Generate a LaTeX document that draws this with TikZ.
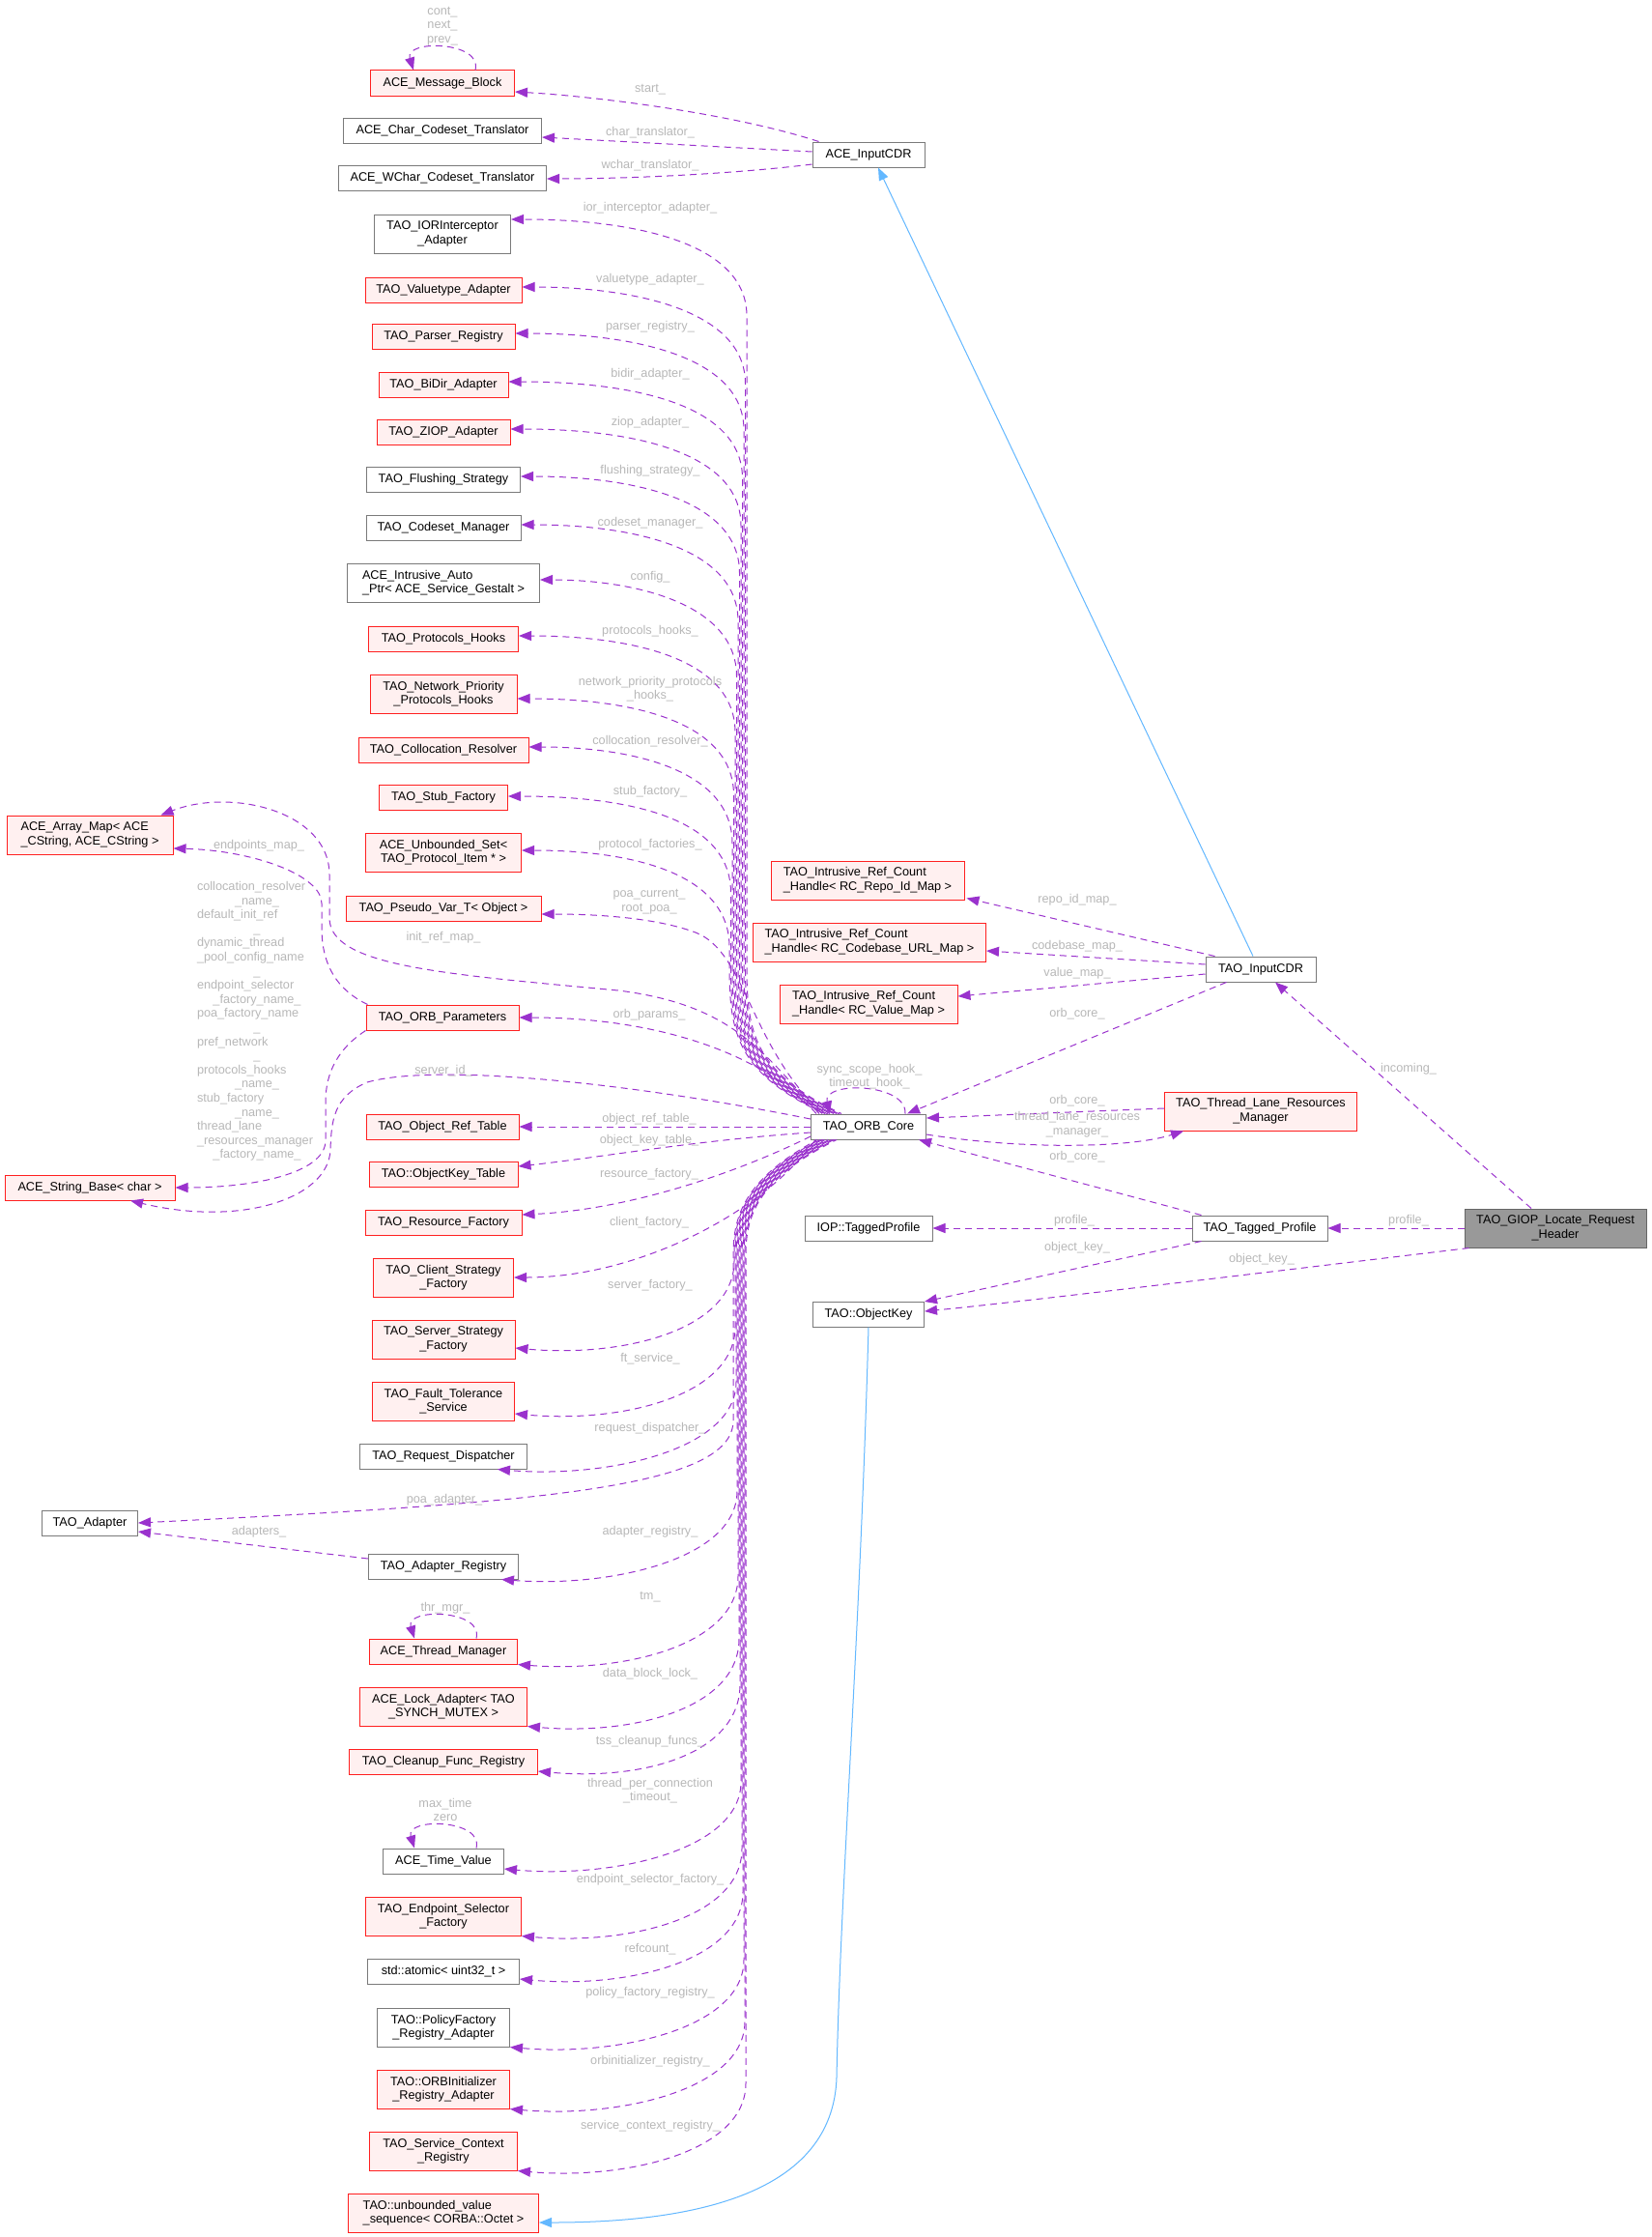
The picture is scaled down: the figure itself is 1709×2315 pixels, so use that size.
\documentclass[tikz,border=0pt]{standalone}
\usepackage{fontspec}
\setmainfont{Liberation Sans}
\usetikzlibrary{arrows.meta,calc}
\definecolor{edgep}{HTML}{9A32CD}
\definecolor{inhb}{HTML}{63B8FF}
\definecolor{lblg}{HTML}{B8B8B8}
\definecolor{bgray}{HTML}{7A7A7A}
\definecolor{redb}{HTML}{FF2020}
\definecolor{redf}{HTML}{FFF0F0}
\definecolor{giopf}{HTML}{999999}
\definecolor{giopb}{HTML}{666666}
\tikzset{
  x=1pt,y=-1pt,
  box/.style={draw=bgray,fill=white,line width=1.0pt,inner xsep=2pt,inner ysep=0pt,minimum height=26pt,font=\fontsize{12.7}{14.6}\selectfont,align=center},
  rbox/.style={box,draw=redb,fill=redf},
  two/.style={minimum height=40pt},
  dep/.style={draw=edgep,line width=1.0pt,dash pattern=on 7pt off 5pt,-{Triangle[length=13pt,width=10pt]}},
  inh/.style={draw=inhb,line width=1.0pt,-{Triangle[length=13pt,width=10pt]}},
  lbl/.style={text=lblg,font=\fontsize{12.7}{14.6}\selectfont,align=center,inner sep=0pt},
}
\newcommand\upE[4]{%
  \pgfmathsetmacro\myya{#3+100}%
  \pgfmathsetmacro\myph{mod(#1*5,12)}%
  \draw[dep,dash phase=\myph pt] ($(oc.north west)+(#1,0)$) .. controls (#2+8,1110) and (#2,1070) .. (#2,1000) -- (#2,\myya) .. controls (#2,#3+22) and (650,#3) .. #4;
}
\newcommand\dnE[5]{%
  \pgfmathsetmacro\myyb{#3-90}%
  \pgfmathsetmacro\myph{mod(#1*5,12)}%
  \draw[dep,dash phase=\myph pt] ($(oc.south west)+(#1,0)$) .. controls (#2+8,1222) and (#2,1262) .. (#2,1300) -- (#2,\myyb) .. controls (#2,#3-18) and (#4+110,#3+10) .. #5;
}
\newcommand\cl[1]{\makebox[124pt][c]{#1}}
\begin{document}
\begin{tikzpicture}
\fill[white] (0,0) rectangle (1709,2315);
\path[use as bounding box] (0,0) rectangle (1709,2315);

% ---------- left column ----------
\node[rbox,minimum width=149pt] (mb) at (458,86) {ACE\_Message\_Block};
\node[box,minimum width=205pt] (cct) at (458,135) {ACE\_Char\_Codeset\_Translator};
\node[box,minimum width=215pt] (wct) at (458,184) {ACE\_WChar\_Codeset\_Translator};
\node[box,two,minimum width=141pt] (ior) at (458,242) {TAO\_IORInterceptor\\\_Adapter};
\node[rbox,minimum width=162pt] (vta) at (459,300) {TAO\_Valuetype\_Adapter};
\node[rbox,minimum width=148pt] (preg) at (459,348) {TAO\_Parser\_Registry};
\node[rbox,minimum width=134pt] (bidir) at (459,398) {TAO\_BiDir\_Adapter};
\node[rbox,minimum width=138pt] (ziop) at (459,447) {TAO\_ZIOP\_Adapter};
\node[box,minimum width=159pt] (flush) at (459,496) {TAO\_Flushing\_Strategy};
\node[box,minimum width=160pt] (csm) at (459,546) {TAO\_Codeset\_Manager};
\node[box,two,align=left,minimum width=199pt] (iap) at (459,603) {ACE\_Intrusive\_Auto\\\_Ptr< ACE\_Service\_Gestalt >};
\node[rbox,minimum width=155pt] (phk) at (459,661) {TAO\_Protocols\_Hooks};
\node[rbox,two,minimum width=152pt] (npph) at (459,718) {TAO\_Network\_Priority\\\_Protocols\_Hooks};
\node[rbox,minimum width=176pt] (colr) at (459,776) {TAO\_Collocation\_Resolver};
\node[rbox,minimum width=133pt] (stub) at (459,825) {TAO\_Stub\_Factory};
\node[rbox,two,minimum width=161pt] (uset) at (459,882) {ACE\_Unbounded\_Set<\\TAO\_Protocol\_Item * >};
\node[rbox,minimum width=202pt] (pvar) at (459,940) {TAO\_Pseudo\_Var\_T< Object >};
\node[rbox,minimum width=158pt] (op) at (458,1053) {TAO\_ORB\_Parameters};
\node[rbox,minimum width=158pt] (ort) at (458,1166) {TAO\_Object\_Ref\_Table};
\node[rbox,minimum width=154pt] (okt) at (459,1215) {TAO::ObjectKey\_Table};
\node[rbox,minimum width=162pt] (rf) at (459,1265) {TAO\_Resource\_Factory};
\node[rbox,two,minimum width=145pt] (csf) at (459,1322) {TAO\_Client\_Strategy\\\_Factory};
\node[rbox,two,minimum width=148pt] (ssf) at (459,1386) {TAO\_Server\_Strategy\\\_Factory};
\node[rbox,two,minimum width=147pt] (fts) at (459,1450) {TAO\_Fault\_Tolerance\\\_Service};
\node[box,minimum width=173pt] (rd) at (459,1507) {TAO\_Request\_Dispatcher};
\node[box,minimum width=155pt] (ar) at (459,1621) {TAO\_Adapter\_Registry};
\node[rbox,minimum width=153pt] (tm) at (459,1709) {ACE\_Thread\_Manager};
\node[rbox,two,minimum width=173pt] (la) at (459,1766) {ACE\_Lock\_Adapter< TAO\\\_SYNCH\_MUTEX >};
\node[rbox,minimum width=195pt] (cfr) at (459,1823) {TAO\_Cleanup\_Func\_Registry};
\node[box,minimum width=125pt] (tv) at (459,1926) {ACE\_Time\_Value};
\node[rbox,two,minimum width=161pt] (esf) at (459,1983) {TAO\_Endpoint\_Selector\\\_Factory};
\node[box,minimum width=157pt] (atom) at (459,2040) {std::atomic< uint32\_t >};
\node[box,two,minimum width=137pt] (pfr) at (459,2098) {TAO::PolicyFactory\\\_Registry\_Adapter};
\node[rbox,two,minimum width=137pt] (oir) at (459,2162) {TAO::ORBInitializer\\\_Registry\_Adapter};
\node[rbox,two,minimum width=153pt] (scr) at (459,2226) {TAO\_Service\_Context\\\_Registry};
\node[rbox,two,align=left,minimum width=197pt] (uvs) at (459,2290) {TAO::unbounded\_value\\\_sequence< CORBA::Octet >};

% ---------- far left ----------
\node[rbox,two,align=left,minimum width=172pt] (am) at (93,864) {ACE\_Array\_Map< ACE\\\_CString, ACE\_CString >};
\node[rbox,minimum width=176pt] (sb) at (93,1229) {ACE\_String\_Base< char >};
\node[box,minimum width=99pt] (ta) at (93,1576) {TAO\_Adapter};

% ---------- right ----------
\node[box,minimum width=116pt] (aic) at (899,160) {ACE\_InputCDR};
\node[rbox,two,align=left,minimum width=200pt] (rid) at (898,911) {TAO\_Intrusive\_Ref\_Count\\\_Handle< RC\_Repo\_Id\_Map >};
\node[rbox,two,align=left,minimum width=241pt] (cbm) at (900,975) {TAO\_Intrusive\_Ref\_Count\\\_Handle< RC\_Codebase\_URL\_Map >};
\node[rbox,two,align=left,minimum width=184pt] (vmap) at (899,1039) {TAO\_Intrusive\_Ref\_Count\\\_Handle< RC\_Value\_Map >};
\node[box,minimum width=114pt] (tic) at (1305,1003) {TAO\_InputCDR};
\node[box,minimum width=119pt] (oc) at (899,1166) {TAO\_ORB\_Core};
\node[rbox,two,minimum width=199pt] (tlr) at (1305,1150) {TAO\_Thread\_Lane\_Resources\\\_Manager};
\node[box,minimum width=132pt] (iop) at (899,1271) {IOP::TaggedProfile};
\node[box,minimum width=115pt] (okey) at (899,1360) {TAO::ObjectKey};
\node[box,minimum width=140pt] (tp) at (1304,1271) {TAO\_Tagged\_Profile};
\node[box,two,fill=giopf,draw=giopb,minimum width=188pt] (giop) at (1610,1271) {TAO\_GIOP\_Locate\_Request\\\_Header};

% ---------- ACE_InputCDR edges ----------
\draw[dep] ($(aic.north west)+(7,0)$) .. controls (760,118) and (620,100) .. ($(mb.east)+(0,9)$);
\draw[dep] ($(aic.west)+(0,-3)$) -- ($(cct.east)+(0,7)$);
\draw[dep] ($(aic.west)+(0,10)$) .. controls (760,180) and (650,185) .. ($(wct.east)+(0,1)$);
\draw[inh] ($(tic.north)+(-8,0)$) -- ($(aic.south)+(10,0)$);

% ---------- self loops ----------
\draw[dep] ($(mb.north)+(34,0)$) .. controls ($(mb.north)+(42,-30)$) and ($(mb.north)+(-40,-32)$) .. ($(mb.north)+(-30,0)$);
\draw[dep] ($(tm.north)+(34,0)$) .. controls ($(tm.north)+(42,-30)$) and ($(tm.north)+(-40,-32)$) .. ($(tm.north)+(-30,0)$);
\draw[dep] ($(tv.north)+(34,0)$) .. controls ($(tv.north)+(42,-30)$) and ($(tv.north)+(-40,-32)$) .. ($(tv.north)+(-30,0)$);
\draw[dep] ($(oc.north)+(38,0)$) .. controls ($(oc.north)+(40,-32)$) and ($(oc.north)+(-48,-34)$) .. ($(oc.north)+(-40,0)$);

% ---------- ORB_Core upper bundle ----------
\upE{32}{773}{227}{($(ior.east)+(0,-15)$)}
\upE{30}{771.5}{297}{($(vta.east)+(0,-3)$)}
\upE{29}{770}{345}{($(preg.east)+(0,-3)$)}
\upE{27}{768.5}{395}{($(bidir.east)+(0,-3)$)}
\upE{26}{767}{444}{($(ziop.east)+(0,-3)$)}
\upE{24}{765.5}{493}{($(flush.east)+(0,-3)$)}
\upE{23}{764}{543}{($(csm.east)+(0,-3)$)}
\upE{21}{762.5}{600}{($(iap.east)+(0,-3)$)}
\upE{20}{761}{658}{($(phk.east)+(0,-3)$)}
\upE{18}{759.5}{723}{($(npph.east)+(0,5)$)}
\upE{17}{758}{773}{($(colr.east)+(0,-3)$)}
\upE{15}{756.5}{824}{($(stub.east)+(0,-1)$)}
\upE{14}{755}{880}{($(uset.east)+(0,-2)$)}
\draw[dep] ($(oc.north west)+(12,0)$) .. controls (775,1080) and (772,985) .. (720,965) .. controls (680,950) and (620,946) .. ($(pvar.east)+(0,6)$);
\draw[dep] ($(oc.north west)+(6,0)$) .. controls (790,1090) and (680,1053) .. (op.east);
\draw[dep] ($(oc.north west)+(9,0)$) .. controls (790,1090) and (760,1040) .. (640,1025) .. controls (460,1008) and (341,1000) .. (341,950) -- (341,905) .. controls (341,840) and (240,815) .. ($(am.north east)+(-13,0)$);
\draw[dep] ($(op.north west)+(2,0)$) .. controls (350,1025) and (333,1000) .. (333,960) -- (333,935) .. controls (333,905) and (260,880) .. ($(am.east)+(0,14)$);
\draw[dep] ($(oc.west)+(0,-8)$) .. controls (650,1120) and (450,1100) .. (380,1120) .. controls (345,1135) and (343,1160) .. (342,1190) .. controls (340,1240) and (250,1270) .. ($(sb.south)+(42,0)$);
\draw[dep] (op.south west) .. controls (350,1085) and (337,1110) .. (337,1140) -- (337,1180) .. controls (337,1215) and (260,1229) .. (sb.east);

% ---------- ORB_Core direct ----------
\draw[dep] (oc.west) -- (ort.east);
\draw[dep] ($(oc.west)+(0,6)$) .. controls (720,1180) and (620,1198) .. ($(okt.east)+(0,-8)$);
\draw[dep] ($(oc.west)+(0,10)$) .. controls (760,1215) and (650,1252) .. ($(rf.east)+(0,-8)$);
\draw[dep] ($(oc.south west)+(5,0)$) .. controls (790,1255) and (660,1322) .. (csf.east);

% ---------- ORB_Core lower bundle ----------
\dnE{9}{760}{1395}{533}{($(ssf.east)+(0,9)$)}
\dnE{10}{761}{1463}{532}{($(fts.east)+(0,13)$)}
\dnE{12}{762}{1520}{514}{($(rd.south east)+(-31,0)$)}
\dnE{13}{763}{1633}{518}{($(ar.south east)+(-18,0)$)}
\dnE{15}{764}{1721}{535}{(tm.south east)}
\dnE{16}{765}{1786}{545}{(la.south east)}
\dnE{18}{766}{1833}{556}{($(cfr.east)+(0,10)$)}
\dnE{19}{767}{1934}{521}{($(tv.east)+(0,8)$)}
\dnE{21}{768}{2003}{539}{(esf.south east)}
\dnE{22}{769}{2048}{537}{($(atom.east)+(0,8)$)}
\dnE{24}{770}{2118}{527}{(pfr.south east)}
\dnE{25}{771}{2182}{527}{(oir.south east)}
\dnE{27}{772}{2246}{535}{(scr.south east)}
\draw[dep,dash phase=3pt] ($(oc.south west)+(7,0)$) .. controls (767,1222) and (759,1262) .. (759,1300) -- (759,1470) .. controls (759,1540) and (560,1555) .. (ta.east);
\draw[dep] ($(ar.west)+(0,-8)$) -- ($(ta.east)+(0,9)$);

% ---------- right side edges ----------
\draw[dep] ($(tic.north west)+(10,0)$) -- ($(rid.south east)+(2,-2)$);
\draw[dep] ($(tic.west)+(0,-5)$) -- ($(cbm.east)+(0,9)$);
\draw[dep] ($(tic.west)+(0,5)$) -- ($(vmap.east)+(0,-8)$);
\draw[dep] ($(tic.south west)+(22,0)$) -- ($(oc.north east)+(-20,0)$);
\draw[dep] ($(tlr.west)+(0,-3)$) -- ($(oc.east)+(0,-9)$);
\draw[dep] ($(oc.east)+(0,8)$) .. controls (1060,1190) and (1170,1188) .. ($(tlr.south west)+(20,0)$);
\draw[dep] ($(tp.north west)+(10,0)$) -- ($(oc.south east)+(-8,0)$);
\draw[dep] (tp.west) -- (iop.east);
\draw[dep] ($(tp.south west)+(10,0)$) -- ($(okey.east)+(0,-13)$);
\draw[dep] (giop.west) -- (tp.east);
\draw[dep] ($(giop.south west)+(5,0)$) .. controls (1300,1318) and (1050,1348) .. ($(okey.east)+(0,-3)$);
\draw[dep] ($(giop.north)+(-25,0)$) -- ($(tic.south)+(15,0)$);
\draw[inh] (okey.south) .. controls (890,1700) and (870,1950) .. (866,2150) .. controls (862,2270) and (720,2300) .. ($(uvs.east)+(0,10)$);

% ---------- labels ----------
\node[lbl] (l01) at (458,27) {cont\_\\next\_\\prev\_};
\node[lbl] (l02) at (673,93) {start\_};
\node[lbl] (l03) at (673,137) {char\_translator\_};
\node[lbl] (l04) at (673,171) {wchar\_translator\_};
\node[lbl] (l05) at (673,215) {ior\_interceptor\_adapter\_};
\node[lbl] (l06) at (673,289) {valuetype\_adapter\_};
\node[lbl] (l07) at (673,338) {parser\_registry\_};
\node[lbl] (l08) at (673,387) {bidir\_adapter\_};
\node[lbl] (l09) at (673,437) {ziop\_adapter\_};
\node[lbl] (l10) at (673,487) {flushing\_strategy\_};
\node[lbl] (l11) at (673,541) {codeset\_manager\_};
\node[lbl] (l12) at (673,597) {config\_};
\node[lbl] (l13) at (673,653) {protocols\_hooks\_};
\node[lbl] (l14) at (673,713) {network\_priority\_protocols\\\_hooks\_};
\node[lbl] (l15) at (673,767) {collocation\_resolver\_};
\node[lbl] (l16) at (673,819) {stub\_factory\_};
\node[lbl] (l17) at (673,874) {protocol\_factories\_};
\node[lbl] (l18) at (672,933) {poa\_current\_\\root\_poa\_};
\node[lbl] (l19) at (672,1050) {orb\_params\_};
\node[lbl] (l20) at (672,1158) {object\_ref\_table\_};
\node[lbl] (l21) at (672,1180) {object\_key\_table\_};
\node[lbl] (l22) at (672,1215) {resource\_factory\_};
\node[lbl] (l23) at (672,1265) {client\_factory\_};
\node[lbl] (l24) at (673,1330) {server\_factory\_};
\node[lbl] (l25) at (673,1406) {ft\_service\_};
\node[lbl] (l26) at (673,1478) {request\_dispatcher\_};
\node[lbl] (l27) at (460,1552) {poa\_adapter\_};
\node[lbl] (l28) at (673,1585) {adapter\_registry\_};
\node[lbl] (l29) at (673,1653) {tm\_};
\node[lbl] (l30) at (461,1664) {thr\_mgr\_};
\node[lbl] (l31) at (673,1732) {data\_block\_lock\_};
\node[lbl] (l32) at (673,1802) {tss\_cleanup\_funcs\_};
\node[lbl] (l33) at (673,1853) {thread\_per\_connection\\\_timeout\_};
\node[lbl] (l34) at (461,1873) {max\_time\\zero};
\node[lbl] (l35) at (673,1945) {endpoint\_selector\_factory\_};
\node[lbl] (l36) at (673,2017) {refcount\_};
\node[lbl] (l37) at (673,2062) {policy\_factory\_registry\_};
\node[lbl] (l38) at (673,2133) {orbinitializer\_registry\_};
\node[lbl] (l39) at (673,2200) {service\_context\_registry\_};
\node[lbl] (l40) at (268,875) {endpoints\_map\_};
\node[lbl] (l41) at (459,970) {init\_ref\_map\_};
\node[lbl] (l42) at (459,1108) {server\_id\_};
\node[lbl] (l43) at (268,1585) {adapters\_};
\node[lbl,text width=124pt,align=left] (l44) at (266,1057) {collocation\_resolver\\
\cl{\_name\_}\\
default\_init\_ref\\
\cl{\_}\\
dynamic\_thread\\
\_pool\_config\_name\\
\cl{\_}\\
endpoint\_selector\\
\cl{\_factory\_name\_}\\
poa\_factory\_name\\
\cl{\_}\\
pref\_network\\
\cl{\_}\\
protocols\_hooks\\
\cl{\_name\_}\\
stub\_factory\\
\cl{\_name\_}\\
thread\_lane\\
\_resources\_manager\\
\cl{\_factory\_name\_}};
\node[lbl] (l45) at (1115,931) {repo\_id\_map\_};
\node[lbl] (l46) at (1115,979) {codebase\_map\_};
\node[lbl] (l47) at (1115,1007) {value\_map\_};
\node[lbl] (l48) at (1115,1049) {orb\_core\_};
\node[lbl] (l49) at (900,1114) {sync\_scope\_hook\_\\timeout\_hook\_};
\node[lbl] (l50) at (1115,1139) {orb\_core\_};
\node[lbl] (l51) at (1115,1164) {thread\_lane\_resources\\\_manager\_};
\node[lbl] (l52) at (1115,1197) {orb\_core\_};
\node[lbl] (l53) at (1112,1263) {profile\_};
\node[lbl] (l54) at (1458,1263) {profile\_};
\node[lbl] (l55) at (1115,1291) {object\_key\_};
\node[lbl] (l56) at (1306,1303) {object\_key\_};
\node[lbl] (l57) at (1458,1106) {incoming\_};
\end{tikzpicture}
\end{document}
